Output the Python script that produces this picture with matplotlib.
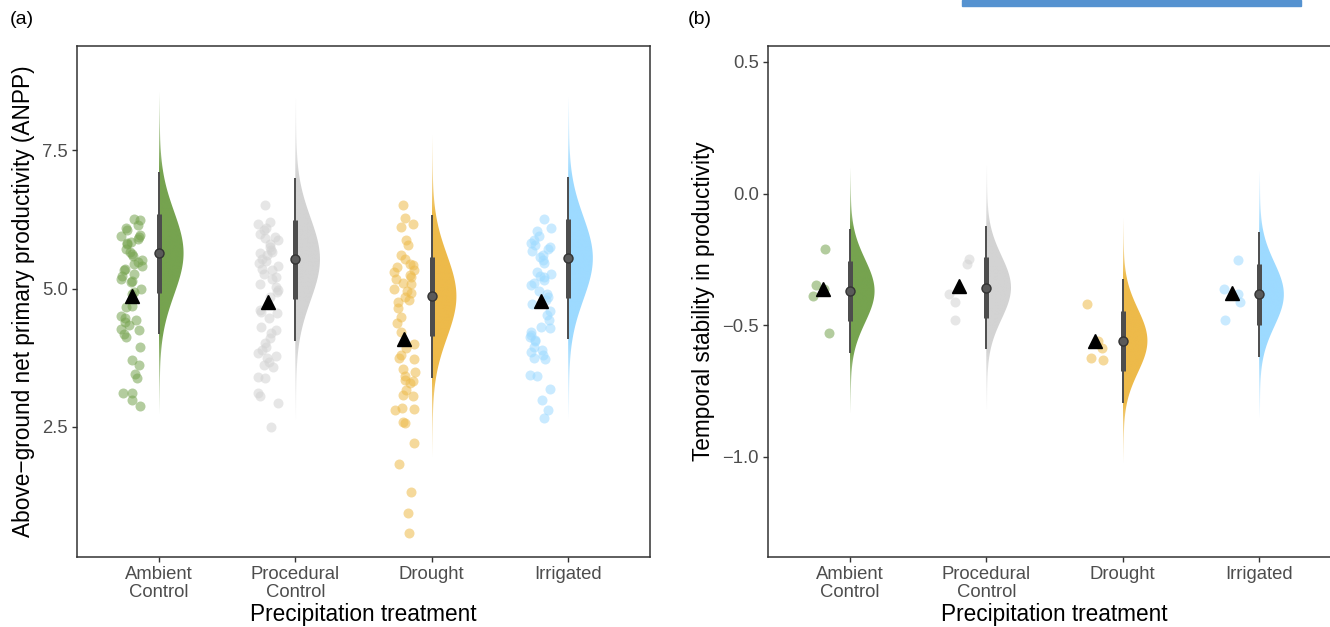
import numpy as np
import matplotlib
matplotlib.use("Agg")
import matplotlib.pyplot as plt
from matplotlib.colors import to_rgb

plt.rcParams['font.family'] = ['Liberation Sans', 'DejaVu Sans']

# categorie e colori
treatments = ["Ambient\nControl", "Procedural\nControl", "Drought", "Irrigated"]
colours = ["#76A34F", "#D3D3D3", "#EDBA4A", "#9DDAFF"]

# (a) ANPP, valori dei singoli plot
anpp_ambient = [6.25, 6.24, 6.15, 6.09, 6.05, 5.97, 5.95, 5.94, 5.89, 5.85,
                5.82, 5.80, 5.72, 5.66, 5.62, 5.58, 5.51, 5.48, 5.45, 5.41,
                5.36, 5.33, 5.27, 5.23, 5.18, 5.14, 5.12, 4.99, 4.93, 4.90,
                4.68, 4.67, 4.50, 4.46, 4.43, 4.40, 4.35, 4.26, 4.25, 4.17,
                4.13, 3.94, 3.70, 3.61, 3.46, 3.38, 3.11, 3.12, 2.99, 2.88]
anpp_procedural = [6.51, 6.21, 6.16, 6.10, 6.06, 5.98, 5.94, 5.91, 5.88, 5.80,
                   5.76, 5.70, 5.67, 5.64, 5.60, 5.54, 5.50, 5.46, 5.40, 5.35,
                   5.33, 5.27, 5.20, 5.18, 5.09, 5.03, 4.98, 4.94, 4.85, 4.62,
                   4.58, 4.55, 4.46, 4.30, 4.25, 4.19, 4.10, 4.01, 3.95, 3.89,
                   3.83, 3.78, 3.74, 3.68, 3.62, 3.59, 3.40, 3.38, 3.11, 3.05,
                   2.93, 2.50]
anpp_drought = [6.51, 6.27, 6.16, 6.12, 5.88, 5.79, 5.60, 5.53, 5.45, 5.42,
                5.39, 5.33, 5.30, 5.24, 5.20, 5.18, 5.10, 5.09, 5.00, 4.95,
                4.92, 4.85, 4.79, 4.76, 4.64, 4.49, 4.37, 4.22, 4.00, 3.92,
                3.80, 3.75, 3.72, 3.55, 3.50, 3.41, 3.35, 3.32, 3.30, 3.17,
                3.08, 3.05, 2.84, 2.82, 2.81, 2.58, 2.57, 2.20, 1.82, 1.32,
                0.95, 0.58]
anpp_irrigated = [6.25, 6.09, 6.04, 5.95, 5.88, 5.83, 5.79, 5.75, 5.71, 5.68,
                  5.60, 5.57, 5.51, 5.46, 5.30, 5.27, 5.23, 5.21, 5.15, 5.10,
                  5.06, 4.95, 4.91, 4.85, 4.79, 4.72, 4.60, 4.52, 4.43, 4.30,
                  4.28, 4.22, 4.16, 4.12, 4.07, 4.05, 3.95, 3.89, 3.85, 3.80,
                  3.75, 3.72, 3.44, 3.41, 3.19, 2.99, 2.81, 2.66]
anpp_means = [4.86, 4.76, 4.09, 4.77]
anpp_median = [5.64, 5.53, 4.86, 5.55]
anpp_sd = [0.75, 0.75, 0.75, 0.75]

# (b) stabilita' temporale
stab_ambient = [-0.21, -0.347, -0.364, -0.391, -0.528]
stab_procedural = [-0.247, -0.269, -0.383, -0.41, -0.48]
stab_drought = [-0.42, -0.559, -0.585, -0.623, -0.631]
stab_irrigated = [-0.252, -0.364, -0.38, -0.412, -0.479]
stab_means = [-0.364, -0.351, -0.559, -0.379]
stab_median = [-0.370, -0.357, -0.559, -0.383]
stab_sd = [0.12, 0.12, 0.12, 0.121]

rng = np.random.default_rng(7)


def halfeye(ax, x, mu, sd, col):
    y = np.linspace(mu - 4 * sd, mu + 4 * sd, 500)
    z = (y - mu) / sd
    w = 0.175 * np.exp(-0.5 * z ** 2) + 0.006
    poly = ax.fill_betweenx(y, x, x + w, facecolor="none", lw=0)
    img = np.zeros((len(y), 1, 4))
    img[..., :3] = to_rgb(col)
    img[:, 0, 3] = np.clip(1 - (np.abs(z) - 2.0) / 1.9, 0, 1)
    im = ax.imshow(img, extent=[x, x + w.max(), y[0], y[-1]], origin="lower",
                   aspect="auto", interpolation="bilinear", zorder=2)
    im.set_clip_path(poly.get_paths()[0], transform=ax.transData)
    ax.plot([x, x], [mu - 1.96 * sd, mu + 1.96 * sd], color="#4D4D4D", lw=1.4,
            zorder=3, solid_capstyle="butt")
    ax.plot([x, x], [mu - 0.954 * sd, mu + 0.954 * sd], color="#4D4D4D", lw=3.6,
            zorder=3, solid_capstyle="butt")
    ax.plot(x, mu, "o", ms=6.5, mfc="#5A5A5A", mec="#333333", mew=1.0, zorder=4)


def panel(ax, groups, means, medians, sds, ylim, yticks, ylabel):
    for i, vals in enumerate(groups):
        xc = i + 1
        jit = rng.uniform(-0.08, 0.08, len(vals))
        ax.scatter(xc - 0.2 + jit, vals, s=52, color=colours[i], alpha=0.55,
                   lw=0, zorder=2)
        halfeye(ax, xc, medians[i], sds[i], colours[i])
        ax.plot(xc - 0.2, means[i], "^", color="black", ms=9.5, zorder=5)
    ax.set_xlim(0.4, 4.6)
    ax.set_ylim(*ylim)
    ax.set_xticks([1, 2, 3, 4])
    ax.set_xticklabels(treatments, linespacing=1.05)
    ax.set_yticks(yticks)
    ax.set_yticklabels([f"{t:.1f}".replace("-", "\u2212") for t in yticks])
    ax.tick_params(colors="#333333", labelcolor="#4D4D4D", labelsize=13.3,
                   length=3.5, width=1.0, pad=3)
    for s in ax.spines.values():
        s.set_color("#333333")
        s.set_linewidth(1.1)
    ax.set_xlabel("Precipitation treatment", fontsize=16.3, labelpad=2)
    ax.set_ylabel(ylabel, fontsize=16.3, labelpad=5)


fig = plt.figure(figsize=(13.3, 6.27), dpi=100)
ax1 = fig.add_axes([77 / 1330, 70 / 627, 573 / 1330, 511 / 627])
ax2 = fig.add_axes([768 / 1330, 70 / 627, 573 / 1330, 511 / 627])

panel(ax1, [anpp_ambient, anpp_procedural, anpp_drought, anpp_irrigated],
      anpp_means, anpp_median, anpp_sd, (0.146, 9.386), [2.5, 5.0, 7.5],
      "Above\u2212ground net primary productivity (ANPP)")
panel(ax2, [stab_ambient, stab_procedural, stab_drought, stab_irrigated],
      stab_means, stab_median, stab_sd, (-1.38, 0.56), [-1.0, -0.5, 0.0, 0.5],
      "Temporal stability in productivity")

fig.text(10 / 1330, 1 - 20 / 627, "(a)", fontsize=14, va="center")
fig.text(688 / 1330, 1 - 20 / 627, "(b)", fontsize=14, va="center")
fig.patches.append(plt.Rectangle((962 / 1330, 1 - 6 / 627), 339 / 1330, 6 / 627,
                                 transform=fig.transFigure, color="#5592D0"))

fig.savefig("out.png", dpi=100)
